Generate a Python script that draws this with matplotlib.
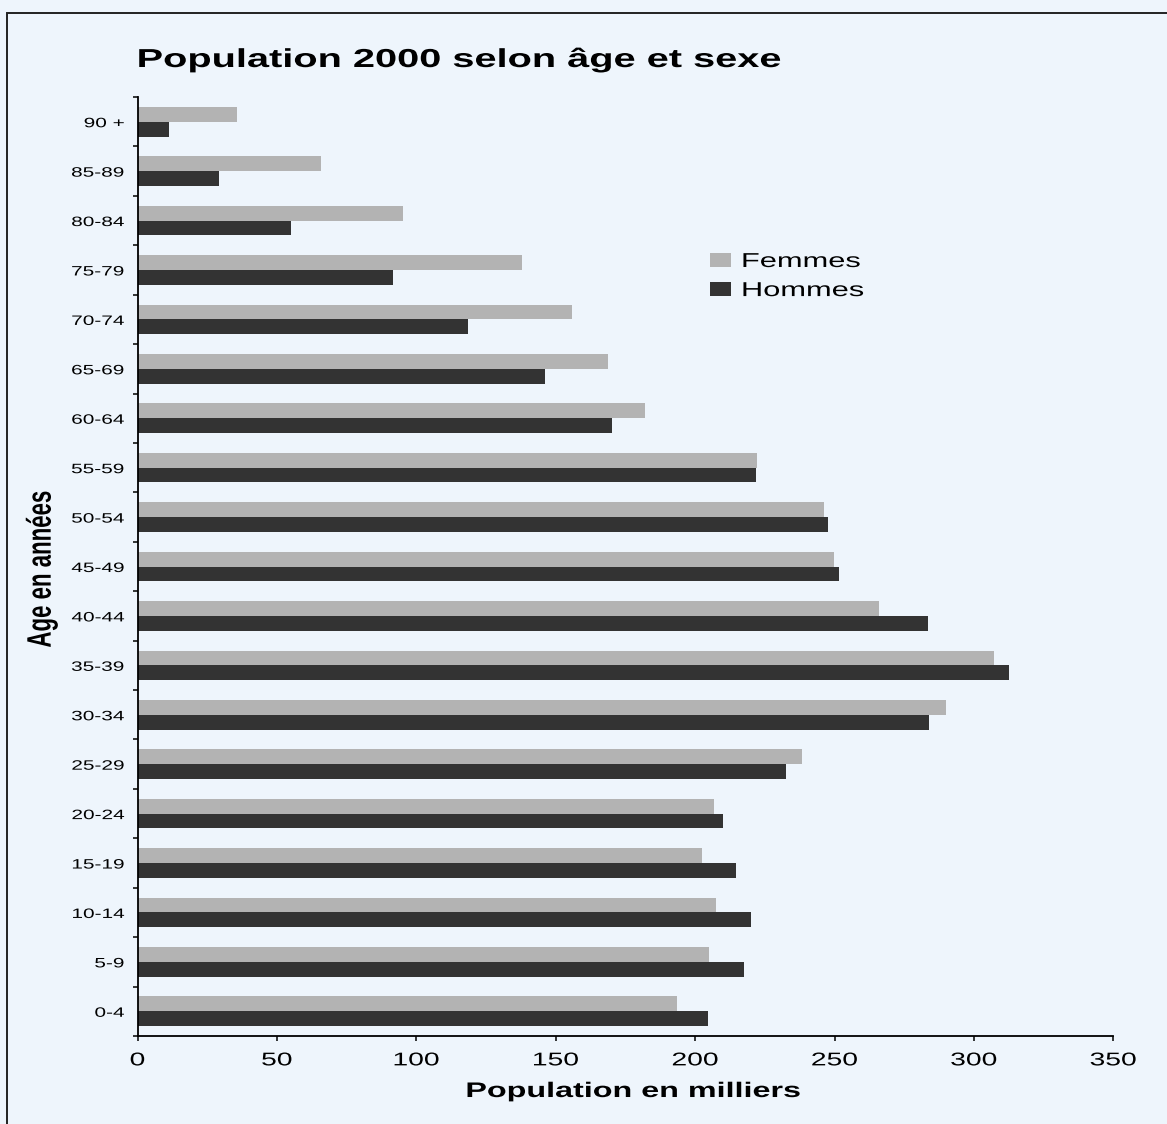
import matplotlib
matplotlib.use("Agg")
import matplotlib.pyplot as plt
import numpy as np
from matplotlib import patheffects
from matplotlib.patches import Rectangle
from matplotlib.transforms import Affine2D

# Population par groupe d'âge, en milliers
ages = ['0-4', '5-9', '10-14', '15-19', '20-24', '25-29', '30-34', '35-39',
        '40-44', '45-49', '50-54', '55-59', '60-64', '65-69', '70-74',
        '75-79', '80-84', '85-89', '90 +']
femmes = [193.6, 205.0, 207.6, 202.5, 206.8, 238.4, 290.1, 307.3, 266.1,
          249.9, 246.3, 222.3, 182.1, 168.8, 155.9, 137.9, 95.2, 65.8, 35.7]
hommes = [204.7, 217.6, 220.1, 214.7, 210.1, 232.7, 283.8, 312.7, 283.6,
          251.7, 247.8, 221.9, 170.3, 146.2, 118.6, 91.7, 55.1, 29.2, 11.3]
xticks = [0, 50, 100, 150, 200, 250, 300, 350]

BG = '#eef5fc'
C_F = '#b3b3b3'
C_H = '#333333'
SX = 1.53  # wide face


class Stretch(patheffects.AbstractPathEffect):
    """Draw the text path widened along its own x (or y) direction."""

    def __init__(self, sx=1.0, sy=1.0, ax_=0.5, ay_=0.5):
        super().__init__()
        self.sx, self.sy, self.ax_, self.ay_ = sx, sy, ax_, ay_

    def draw_path(self, renderer, gc, tpath, affine, rgbFace=None):
        ext = tpath.get_extents()
        x0 = ext.x0 + self.ax_ * ext.width
        y0 = ext.y0 + self.ay_ * ext.height
        pre = Affine2D().translate(-x0, -y0).scale(self.sx, self.sy).translate(x0, y0)
        renderer.draw_path(gc, tpath, pre + affine, rgbFace)


plt.rcParams['font.family'] = ['Liberation Sans', 'DejaVu Sans']

W, H = 1167, 1124
fig = plt.figure(figsize=(W / 100, H / 100), dpi=100, facecolor=BG)
ax = fig.add_axes([137.5 / W, 88 / H, 975.8 / W, 939 / H])
ax.set_facecolor('none')

y = np.arange(len(ages))
ax.barh(y + 0.15, femmes, height=0.3, color=C_F, label='Femmes')
ax.barh(y - 0.15, hommes, height=0.3, color=C_H, label='Hommes')

ax.set_xlim(0, 350)
ax.set_ylim(-0.5, len(ages) - 0.5)
ax.set_xticks(xticks)
ax.set_xticklabels([str(v) for v in xticks])
ax.set_yticks(np.arange(len(ages) + 1) - 0.5)
ax.set_yticklabels([])
ax.set_yticks(y, minor=True)
ax.set_yticklabels(ages, minor=True)

for s in ['top', 'right']:
    ax.spines[s].set_visible(False)
for s in ['left', 'bottom']:
    ax.spines[s].set_linewidth(1.3)
    ax.spines[s].set_color('black')

ax.tick_params(axis='x', direction='out', length=3.8, width=1.1, pad=8,
               labelsize=13.3, colors='black')
ax.tick_params(axis='y', which='major', direction='out', length=3.8, width=1.1)
ax.tick_params(axis='y', which='minor', length=0, pad=9.5, labelsize=9.8)

for t in ax.get_xticklabels():
    t.set_path_effects([Stretch(SX, 1, 0.5, 0.5)])
for t in ax.get_yticklabels(minor=True):
    t.set_path_effects([Stretch(SX, 1, 1.0, 0.5)])

ttl = ax.set_title('Population 2000 selon âge et sexe', loc='left',
                   fontsize=18.7, fontweight='bold', pad=21.6)
ttl.set_path_effects([Stretch(SX, 1, 0.0, 0.5)])

xl = ax.set_xlabel('Population en milliers', fontsize=15.2, fontweight='bold')
ax.xaxis.set_label_coords(0.508, -0.049)
xl.set_path_effects([Stretch(SX, 1, 0.5, 0.5)])

yl = ax.set_ylabel('Age en années', fontsize=16, fontweight='bold')
ax.yaxis.set_label_coords(-0.087, 0.497)
yl.set_path_effects([Stretch(1, SX, 0.5, 0.5)])

leg = ax.legend(loc='upper left', bbox_to_anchor=(710 / W, (H - 252) / H),
                bbox_transform=fig.transFigure, frameon=False, fontsize=14.5,
                handlelength=1.03, handleheight=0.67, handletextpad=0.55,
                labelspacing=0.5, borderpad=0, borderaxespad=0)
for t in leg.get_texts():
    t.set_path_effects([Stretch(SX, 1, 0.0, 0.5)])

# cadre autour du graphique
fig.patches.append(Rectangle((7 / W, -0.1), 1.2, 0.1 + (H - 13) / H,
                             transform=fig.transFigure, fill=False,
                             edgecolor='#222222', linewidth=1.4))

fig.savefig('out.png', dpi=100, facecolor=BG)
